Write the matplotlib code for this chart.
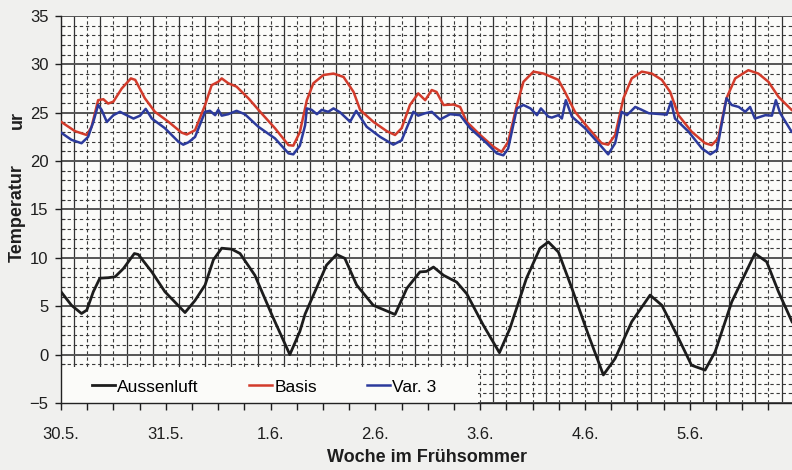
import numpy as np
import matplotlib
matplotlib.use("Agg")
import matplotlib.pyplot as plt
from matplotlib.patches import Rectangle
from matplotlib.ticker import FixedLocator, MultipleLocator

plt.rcParams['font.family'] = ['Liberation Sans', 'DejaVu Sans']

# hours since 30.5. 00:00
days = ["30.5.", "31.5.", "1.6.", "2.6.", "3.6.", "4.6.", "5.6."]

aussen_h = [0, 2.4, 4.7, 5.9, 7.4, 8.9, 10.8, 12.4, 14.3, 16.8, 17.7, 20.8, 23.8, 28.4,
            30.7, 33, 34.9, 36.8, 39.1, 41, 44.4, 48.3, 52.4, 54.7, 55.9, 57.8, 60.8,
            63.1, 65, 67.7, 71.5, 76.5, 79.2, 82.2, 83.7, 85.3, 87.6, 90.6, 92.9, 96.7,
            100.4, 102.8, 106.6, 109.7, 111.6, 113.9, 117, 120.8, 124.2, 126.9, 130.7,
            134.9, 137.6, 141.4, 144.4, 147.5, 149.8, 153.6, 158.9, 161.6, 164.3, 167.4]
aussen_t = [6.5, 5.1, 4.25, 4.6, 6.5, 7.9, 7.95, 8.05, 8.9, 10.45, 10.35, 8.55, 6.5, 4.35,
            5.6, 7.2, 9.8, 11.0, 10.9, 10.45, 8.2, 4.1, 0.0, 2.4, 4.2, 6.15, 9.25,
            10.35, 9.95, 7.2, 5.1, 4.15, 6.85, 8.55, 8.6, 9.05, 8.2, 7.5, 6.3, 3.05,
            0.2, 2.7, 7.9, 11.0, 11.65, 10.6, 6.85, 2.0, -2.1, -0.4, 3.4,
            6.15, 5.1, 1.7, -1.1, -1.6, 0.3, 5.45, 10.45, 9.6, 6.5, 3.4]

basis_h = [0, 3.2, 5.9, 7.0, 8.5, 9.7, 10.8, 12.0, 13.9, 16.0, 17.0, 19.2, 21.5, 24.6,
           27.6, 28.8, 30.7, 33, 34.5, 36, 36.8, 38.3, 40.2, 42.9, 46, 49, 52.1, 53.2,
           54.7, 56.3, 57.8, 60.1, 62.4, 64.7, 67, 68.5, 71.5, 74.6, 76.5, 78, 79.9,
           81.8, 83.4, 84.9, 86, 87.6, 89.9, 91.4, 92.9, 96, 99, 100.9, 102.4, 104.4,
           105.9, 108.2, 110.5, 113.9, 115.4, 117.7, 120.8, 123.8, 125.3, 126.9, 128.8,
           130.7, 133, 135.3, 137.6, 139.5, 141.4, 144.4, 147.5, 149, 150.5, 152.4,
           154.4, 157.4, 159.7, 162, 164.3, 167.3]
basis_t = [24.07, 23.1, 22.7, 23.55, 26.3, 26.4, 25.95, 26.15, 27.5, 28.55, 28.4, 26.5, 25.1, 24.07,
           22.95, 22.75, 23.2, 25.8, 27.85, 28.2, 28.55, 28.05, 27.7, 26.5, 24.9, 23.4, 21.65, 21.6,
           23.0, 26.3, 28.05, 28.9, 29.05, 28.7, 27.15, 25.3, 24.07, 23.1, 22.7, 23.4, 25.8,
           27.0, 26.3, 27.35, 27.15, 25.8, 25.85, 25.6, 24.07, 22.7, 21.5, 20.95, 22.0, 25.8,
           28.2, 29.25, 29.05, 28.4, 27.15, 25.1, 23.4, 21.85, 21.7, 22.7, 26.5,
           28.55, 29.25, 29.05, 28.4, 27.15, 24.75, 23.05, 21.85, 21.65, 22.35, 26.5,
           28.55, 29.4, 29.05, 28.2, 26.65, 25.3]

var3_h = [0, 2.4, 4.7, 6.2, 7.4, 8.5, 9.3, 10.5, 12, 13.5, 15, 16.6, 18.1, 19.4, 20.8,
          23.8, 26.9, 28, 29.2, 30.7, 33, 34.1, 35.3, 36, 36.8, 38.3, 40.2, 42.1, 45.2,
          49, 52.1, 53.2, 54.7, 55.9, 56.3, 57.4, 58.6, 59.7, 61.2, 62.4, 63.9, 66.2,
          67.6, 70, 73.1, 76.1, 78, 80.7, 81.8, 83.4, 84.9, 86.8, 89.1, 91.4, 93.7,
          97.5, 99.8, 101.3, 102.4, 104.4, 105.9, 107.5, 109, 109.9, 111.6, 112.4,
          113.9, 114.7, 115.6, 117, 120, 123.1, 125.3, 126.9, 128.4, 129.6, 131.5, 133,
          134.6, 137.6, 138.7, 139.7, 140.6, 143.7, 146.8, 148.7, 150.2, 152.4, 153.6,
          155.2, 156.7, 157.8, 158.9, 161.3, 162.8, 163.7, 164.7, 167.3]
var3_t = [22.95, 22.2, 21.85, 22.5, 24.05, 25.8, 25.3, 24.05, 24.75, 25.1, 24.75, 24.4, 24.7, 25.4, 24.4,
          23.4, 22.0, 21.7, 21.95, 22.5, 25.1, 25.2, 24.75, 25.3, 24.7, 24.85, 25.2, 24.85, 23.55,
          22.35, 20.8, 20.7, 21.6, 23.7, 25.45, 25.3, 24.85, 25.3, 25.1, 25.45, 25.05, 24.07,
          25.2, 23.55, 22.5, 21.7, 22.15, 25.1, 24.7, 24.95, 25.1, 24.3, 24.85, 24.75, 23.4,
          21.85, 20.8, 20.6, 21.3, 25.45, 25.8, 25.45, 24.75, 25.45, 24.6, 24.5,
          24.75, 24.4, 26.3, 24.6, 23.4, 21.85, 20.7, 21.85, 25.1, 24.75, 25.6, 25.3,
          24.95, 24.85, 24.8, 26.15, 24.4, 23.05, 21.3, 20.7, 21.15, 26.5, 25.8,
          25.6, 25.1, 25.6, 24.4, 24.75, 24.7, 26.3, 24.95, 23.05]

fig = plt.figure(figsize=(7.92, 4.70), dpi=100, facecolor='#f0f0ee')
ax = fig.add_axes([61/792, 1 - 403/470, 1 - 61/792, (403 - 16)/470])
ax.set_facecolor('#fbfbf9')

ax.plot(aussen_h, aussen_t, color='#1c1c1c', lw=2.0, label='Aussenluft', zorder=3,
        solid_joinstyle='round')
ax.plot(basis_h, basis_t, color='#d23b2b', lw=1.8, label='Basis', zorder=3,
        solid_joinstyle='round')
ax.plot(var3_h, var3_t, color='#2c3a9c', lw=1.8, label='Var. 3', zorder=4,
        solid_joinstyle='round')

ax.set_xlim(0, 167.4)
ax.set_ylim(-5, 35)

# x: ticks every 6 h, labels at midnight; solid grid offset by 3 h
xt = np.arange(0, 168, 6)
ax.xaxis.set_major_locator(FixedLocator(xt))
ax.set_xticklabels([days[int(t) // 24] if t % 24 == 0 else '' for t in xt])
ax.xaxis.set_minor_locator(FixedLocator(np.arange(3, 168, 6)))
ax.yaxis.set_major_locator(MultipleLocator(5))
ax.yaxis.set_minor_locator(MultipleLocator(1))

ax.set_axisbelow(True)
ax.grid(axis='x', which='major', color='#3a3a3a', ls=(0, (3, 2.5)), lw=0.8)
ax.grid(axis='x', which='minor', color='#333333', ls='-', lw=0.9)
ax.grid(axis='y', which='major', color='#555555', ls='-', lw=1.4)
ax.grid(axis='y', which='minor', color='#3a3a3a', ls=(0, (3, 2.5)), lw=0.8)

ax.tick_params(axis='x', which='major', length=5, width=1, pad=12, labelsize=12, colors='#1e1e1e')
ax.tick_params(axis='x', which='minor', length=0)
ax.tick_params(axis='y', which='major', length=4, width=1, pad=5, labelsize=12, colors='#1e1e1e')
ax.tick_params(axis='y', which='minor', direction='in', length=3, width=0.8, color='#333333')

for s in ['top', 'right']:
    ax.spines[s].set_visible(False)
for s in ['left', 'bottom']:
    ax.spines[s].set_color('#222222')
    ax.spines[s].set_linewidth(1.0)

# white legend field covering the grid
ax.add_patch(Rectangle((0, 0), (478 - 61)/731, (403 - 367)/387, transform=ax.transAxes,
                       facecolor='#fbfbf9', edgecolor='none', zorder=1))
ax.legend(loc='center left', bbox_to_anchor=((92 - 61)/731, (403 - 387)/387), ncol=3,
          frameon=False, fontsize=12.5, handlelength=1.3, handletextpad=0.15,
          columnspacing=2.9, borderpad=0, borderaxespad=0)

fig.text(427/792, 1 - 457/470, 'Woche im Frühsommer', ha='center', va='center',
         fontsize=13, fontweight='bold', color='#1e1e1e')
fig.text(17/792, 1 - 213/470, 'Temperatur', ha='center', va='center', rotation=90,
         fontsize=13, fontweight='bold', color='#1e1e1e')
fig.text(17/792, 1 - 120/470, 'ur', ha='center', va='center', rotation=90,
         fontsize=13, fontweight='bold', color='#1e1e1e')

fig.savefig('out.png', dpi=100, facecolor=fig.get_facecolor())
